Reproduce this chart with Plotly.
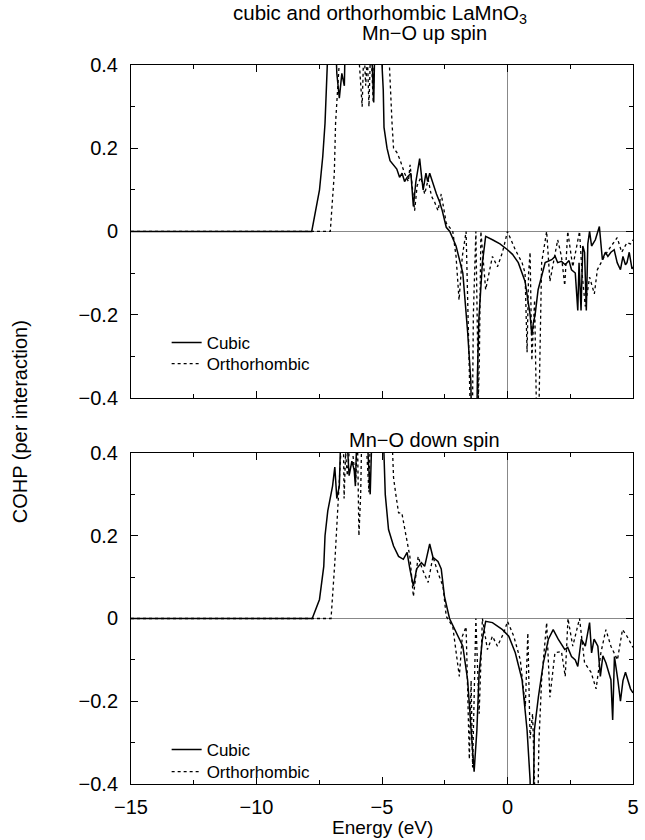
import plotly.graph_objects as go

# ---------------- data ----------------
up_cubic_E = [-15, -7.8, -7.49, -7.36, -7.27, -7.17, -7.05, -6.9, -6.8, -6.7, -6.6, -6.5, -6.42, -6.0, -5.6,
              -5.42, -5.33, -5.24, -5.1, -5.0, -4.95, -4.92, -4.8, -4.68, -4.55, -4.41, -4.3, -4.2, -4.1, -4.0,
              -3.85, -3.75, -3.65, -3.5, -3.42, -3.36, -3.25, -3.18, -3.1, -2.95, -2.83, -2.7, -2.6, -2.44, -2.3,
              -2.05, -1.78, -1.59, -1.46, -1.40, -1.25, -1.20, -1.14, -1.0, -0.87, -0.6, -0.3, 0.0, 0.2, 0.43,
              0.7, 0.9, 0.97, 1.03, 1.1, 1.22, 1.5, 1.76, 1.9, 2.0, 2.15, 2.3, 2.45, 2.55, 2.7, 2.8, 2.85, 2.93,
              3.0, 3.07, 3.14, 3.2, 3.27, 3.35, 3.5, 3.66, 3.78, 3.9, 4.0, 4.12, 4.25, 4.37, 4.5, 4.6, 4.7, 4.76,
              4.85, 4.96, 5.0]
up_cubic_V = [0, 0, 0.10, 0.18, 0.26, 0.40, 0.6, 0.55, 0.38, 0.32, 0.38, 0.35, 0.6, 0.7, 0.6,
              0.45, 0.31, 0.6, 0.6, 0.4, 0.34, 0.25, 0.20, 0.17, 0.16, 0.15, 0.13, 0.14, 0.12, 0.13,
              0.14, 0.06, 0.12, 0.175, 0.13, 0.10, 0.14, 0.12, 0.14, 0.11, 0.09, 0.07, 0.05, 0.01, 0.0,
              -0.035, -0.10, -0.24, -0.36, -0.6, -0.6, -0.35, -0.21, -0.075, -0.012, -0.02, -0.03, -0.044, -0.055, -0.075,
              -0.12, -0.2, -0.25, -0.22, -0.2, -0.14, -0.075, -0.068, -0.06, -0.075, -0.072, -0.08, -0.07, -0.092, -0.1, -0.19, -0.075, -0.19,
              -0.035, -0.05, -0.19, -0.03, 0.0, -0.035, -0.02, 0.012, -0.068, -0.05, -0.06, -0.05, -0.044, -0.075, -0.092, -0.06, -0.08, -0.075,
              -0.05, -0.09, -0.085]

up_ortho_E = [-15, -7.06, -6.9, -6.85, -6.77, -6.7, -6.5, -6.2, -6.0, -5.92, -5.85, -5.79, -5.72, -5.65, -5.58,
              -5.52, -5.45, -5.35, -5.25, -4.8, -4.72, -4.68, -4.6, -4.54, -4.41, -4.3, -4.1, -3.95, -3.88, -3.7,
              -3.6, -3.45, -3.3, -3.16, -3.03, -2.9, -2.77, -2.64, -2.44, -2.18, -2.05, -1.93, -1.8, -1.65, -1.55,
              -1.5, -1.42, -1.36, -1.26, -1.16, -1.12, -1.06, -0.87, -0.6, -0.4, -0.2, 0.0, 0.31, 0.58, 0.7,
              0.78, 0.84, 0.9, 0.97, 1.08, 1.2, 1.28, 1.36, 1.56, 1.69, 2.0, 2.15, 2.28, 2.4, 2.6,
              2.87, 2.97, 3.1, 3.27, 3.46, 3.58, 3.86, 4.12, 4.37, 4.55, 4.76, 4.9, 5.0]
up_ortho_V = [0, 0, 0.14, 0.26, 0.34, 0.45, 0.6, 0.6, 0.5, 0.42, 0.35, 0.30, 0.45, 0.35, 0.42,
              0.30, 0.45, 0.31, 0.6, 0.6, 0.42, 0.36, 0.26, 0.20, 0.19, 0.175, 0.14, 0.12, 0.16, 0.05,
              0.11, 0.13, 0.09, 0.125, 0.085, 0.07, 0.05, 0.09, 0.02, 0.0, -0.06, -0.165, -0.06, 0.0, -0.39,
              -0.6, -0.6, -0.2, 0.0, -0.4, -0.3, 0.0, -0.14, -0.06, -0.085, -0.05, 0.0, -0.044, -0.075, -0.1,
              -0.29, -0.1, -0.05, -0.31, -0.165, -0.6, -0.3, -0.075, 0.0, -0.12, -0.02, -0.06, -0.13, 0.0, -0.085,
              0.0, -0.1, -0.18, -0.11, -0.15, -0.092, -0.06, -0.036, -0.015, -0.05, -0.027, -0.03, -0.02]

dn_cubic_E = [-15, -7.78, -7.49, -7.32, -7.27, -7.16, -6.97, -6.88, -6.8, -6.7, -6.64, -6.5, -6.38, -6.31, -6.2,
              -6.11, -6.06, -6.0, -5.8, -5.6, -5.47, -5.33, -5.1, -4.95, -4.87, -4.74, -4.54, -4.34, -4.15, -4.0,
              -3.89, -3.75, -3.62, -3.43, -3.3, -3.1, -2.97, -2.77, -2.64, -2.51, -2.31, -2.05, -1.78, -1.59, -1.42,
              -1.33, -1.22, -1.13, -1.0, -0.87, -0.6, -0.2, 0.05, 0.31, 0.58, 0.78, 0.9, 0.97, 1.03, 1.07,
              1.23, 1.43, 1.63, 1.82, 2.02, 2.28, 2.4, 2.55, 2.7, 2.8, 2.94, 3.1, 3.27, 3.35, 3.45,
              3.6, 3.7, 3.8, 3.92, 4.12, 4.19, 4.26, 4.4, 4.5, 4.6, 4.7, 4.9, 5.0]
dn_cubic_V = [0, 0, 0.046, 0.126, 0.2, 0.26, 0.32, 0.366, 0.29, 0.32, 0.45, 0.6, 0.42, 0.345, 0.38,
              0.36, 0.32, 0.45, 0.6, 0.45, 0.30, 0.6, 0.6, 0.45, 0.30, 0.215, 0.175, 0.15, 0.143, 0.16,
              0.12, 0.078, 0.12, 0.135, 0.126, 0.18, 0.148, 0.138, 0.12, 0.053, 0.0, -0.035, -0.067, -0.148, -0.31,
              -0.37, -0.27, -0.13, -0.05, -0.007, -0.01, -0.027, -0.043, -0.083, -0.148, -0.27, -0.39, -0.6, -0.45, -0.27,
              -0.19, -0.107, -0.05, -0.027, -0.05, -0.075, -0.07, -0.092, -0.1, -0.116, -0.05, -0.067, -0.01, -0.083, -0.05,
              -0.067, -0.14, -0.09, -0.107, -0.148, -0.245, -0.092, -0.15, -0.2, -0.15, -0.13, -0.17, -0.18]

dn_ortho_E = [-15, -7.03, -6.88, -6.77, -6.67, -6.6, -6.55, -6.51, -6.45, -6.38, -6.25, -6.05, -5.98, -5.92, -5.85,
              -5.79, -5.65, -5.52, -5.4, -4.7, -4.6, -4.54, -4.45, -4.34, -4.21, -4.08, -3.89, -3.75, -3.56, -3.4,
              -3.16, -2.97, -2.77, -2.57, -2.44, -2.18, -1.92, -1.8, -1.65, -1.52, -1.45, -1.39, -1.26, -1.13, -1.0,
              -0.8, -0.6, -0.4, -0.15, 0.0, 0.25, 0.51, 0.71, 0.81, 0.9, 1.0, 1.17, 1.25, 1.36, 1.56,
              1.69, 1.89, 2.15, 2.3, 2.41, 2.6, 2.87, 3.07, 3.33, 3.53, 3.72, 3.92, 4.12, 4.38, 4.58,
              4.76, 4.95, 5.0]
dn_ortho_V = [0, 0, 0.135, 0.255, 0.34, 0.45, 0.5, 0.29, 0.4, 0.345, 0.45, 0.33, 0.45, 0.2, 0.3,
              0.5, 0.45, 0.305, 0.6, 0.6, 0.45, 0.34, 0.30, 0.255, 0.255, 0.21, 0.15, 0.053, 0.15, 0.12,
              0.087, 0.15, 0.11, 0.078, 0.005, -0.02, -0.14, -0.043, -0.02, -0.34, -0.15, -0.36, 0.0, -0.23, 0.0,
              -0.075, -0.043, -0.067, -0.035, -0.007, -0.043, -0.1, -0.213, -0.035, -0.29, -0.23, -0.6, -0.3, -0.148, -0.01,
              -0.19, -0.083, -0.08, -0.14, 0.0, -0.067, 0.0, -0.107, -0.13, -0.17, -0.083, -0.027, -0.067, -0.1, -0.027,
              -0.043, -0.067, -0.07]

series_names = ["Cubic", "Orthorhombic"]
x_ticks = [-15, -10, -5, 0, 5]
y_ticks = [-0.4, -0.2, 0, 0.2, 0.4]

FONT = "Liberation Sans, Arial, Helvetica, sans-serif"

fig = go.Figure()
solid = dict(color="black", width=1.5)
dotted = dict(color="black", width=1.3, dash="dot")

fig.add_trace(go.Scatter(x=up_cubic_E, y=up_cubic_V, mode="lines", line=solid, name=series_names[0],
                         xaxis="x", yaxis="y", legend="legend"))
fig.add_trace(go.Scatter(x=up_ortho_E, y=up_ortho_V, mode="lines", line=dotted, name=series_names[1],
                         xaxis="x", yaxis="y", legend="legend2"))
fig.add_trace(go.Scatter(x=dn_cubic_E, y=dn_cubic_V, mode="lines", line=solid, name=series_names[0],
                         xaxis="x2", yaxis="y2", legend="legend3"))
fig.add_trace(go.Scatter(x=dn_ortho_E, y=dn_ortho_V, mode="lines", line=dotted, name=series_names[1],
                         xaxis="x2", yaxis="y2", legend="legend4"))

common_x = dict(range=[-15, 5], tickvals=x_ticks, ticks="inside", ticklen=7, tickcolor="black",
                showline=True, linecolor="black", linewidth=1, mirror="ticks", showgrid=False,
                zeroline=True, zerolinecolor="#888888", zerolinewidth=1,
                minor=dict(dtick=2.5, ticks="inside", ticklen=4, tickcolor="black", showgrid=False),
                tickfont=dict(family=FONT, size=20, color="black"))
common_y = dict(range=[-0.4, 0.4], tickvals=y_ticks, ticks="inside", ticklen=7, tickcolor="black",
                showline=True, linecolor="black", linewidth=1, mirror="ticks", showgrid=False,
                zeroline=True, zerolinecolor="#888888", zerolinewidth=1,
                minor=dict(dtick=0.1, ticks="inside", ticklen=4, tickcolor="black", showgrid=False),
                tickfont=dict(family=FONT, size=20, color="black"), ticklabelstandoff=8)

top_dom = [0.537, 1.0]
bot_dom = [0.0, 0.4604]


def leg(y):
    return dict(x=0.071, y=y, xanchor="left", yanchor="middle", bgcolor="rgba(0,0,0,0)",
                font=dict(family=FONT, size=17, color="black"), itemwidth=30)


fig.update_layout(
    width=645, height=840,
    margin=dict(l=131, r=6, t=65, b=56),
    paper_bgcolor="white", plot_bgcolor="white",
    font=dict(family=FONT, size=20, color="black"),
    xaxis=dict(common_x, domain=[0, 1], anchor="y", showticklabels=False),
    yaxis=dict(common_y, domain=top_dom, anchor="x"),
    xaxis2=dict(common_x, domain=[0, 1], anchor="y2", ticklabelstandoff=5),
    yaxis2=dict(common_y, domain=bot_dom, anchor="x2"),
    legend=leg(0.6134),
    legend2=leg(0.5841),
    legend3=leg(0.0473),
    legend4=leg(0.0167),
    showlegend=True,
)

ann = [
    dict(text="cubic and orthorhombic LaMnO<sub>3</sub>", x=0.496, y=1.071, size=20.5, anchor="middle"),
    dict(text="Mn\u2212O up spin", x=0.585, y=1.0445, size=20, anchor="middle"),
    dict(text="Mn\u2212O down spin", x=0.585, y=0.478, size=20, anchor="middle"),
    dict(text="Energy (eV)", x=0.5, y=-0.0779, size=19, anchor="bottom"),
]
for a in ann:
    fig.add_annotation(text=a["text"], x=a["x"], y=a["y"], xref="paper", yref="paper",
                       xanchor="center", yanchor=a["anchor"], showarrow=False,
                       font=dict(family=FONT, size=a["size"], color="black"))
fig.add_annotation(text="COHP (per interaction)", x=-0.222, y=0.504, xref="paper", yref="paper",
                   xanchor="center", yanchor="middle", showarrow=False, textangle=-90,
                   font=dict(family=FONT, size=20, color="black"))

fig.write_html("out.html")
